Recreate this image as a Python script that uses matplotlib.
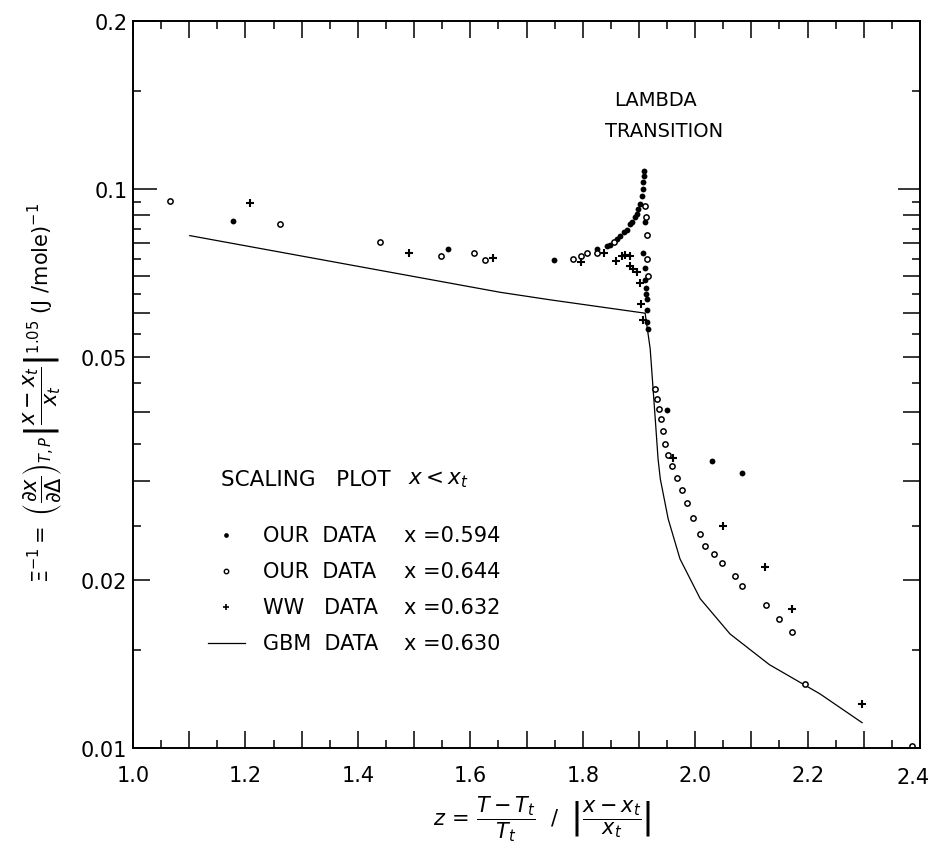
import numpy as np
import matplotlib
matplotlib.use("Agg")
import matplotlib.pyplot as plt
from matplotlib.ticker import FixedLocator, NullFormatter, FixedFormatter

plt.rcParams['font.family'] = ['DejaVu Sans']
plt.rcParams['mathtext.fontset'] = 'dejavusans'

# ---- data ----
# OUR DATA x=0.594 (filled dots)
z_594 = [1.177, 1.560, 1.749, 1.826, 1.843, 1.849, 1.861, 1.867, 1.873, 1.878, 1.884, 1.887,
         1.893, 1.896, 1.899, 1.902, 1.905, 1.907, 1.908, 1.909, 1.909, 1.910, 1.908, 1.910,
         1.911, 1.912, 1.913, 1.914, 1.914, 1.914, 1.916, 1.950, 2.030, 2.084]
y_594 = [0.0878, 0.0782, 0.0747, 0.0782, 0.0792, 0.0794, 0.0814, 0.0826, 0.0839, 0.0844, 0.0866, 0.0875,
         0.0891, 0.0903, 0.0922, 0.0941, 0.0974, 0.1001, 0.1029, 0.1057, 0.1079, 0.0873, 0.0768, 0.0723,
         0.0687, 0.0665, 0.0650, 0.0636, 0.0607, 0.0578, 0.0562, 0.0402, 0.0326, 0.0310]

# OUR DATA x=0.644 (open circles)
z_644 = [1.065, 1.262, 1.440, 1.548, 1.607, 1.626, 1.782, 1.797, 1.807, 1.826, 1.855, 1.910, 1.912,
         1.914, 1.914, 1.916, 1.929, 1.932, 1.935, 1.939, 1.942, 1.946, 1.951, 1.958, 1.967, 1.976,
         1.986, 1.997, 2.008, 2.018, 2.033, 2.048, 2.071, 2.084, 2.126, 2.150, 2.173, 2.196, 2.386]
y_644 = [0.0954, 0.0866, 0.0803, 0.0759, 0.0770, 0.0747, 0.0750, 0.0760, 0.0769, 0.0769, 0.0803, 0.0934, 0.0893,
         0.0828, 0.0749, 0.0700, 0.0439, 0.0421, 0.0404, 0.0388, 0.0370, 0.0350, 0.0335, 0.0320, 0.0304, 0.0289,
         0.0274, 0.0258, 0.0242, 0.0230, 0.0222, 0.0214, 0.0203, 0.0195, 0.0180, 0.0170, 0.0161, 0.0130, 0.0101]

# WW DATA x=0.632 (plus signs)
z_632 = [1.208, 1.491, 1.641, 1.797, 1.837, 1.859, 1.869, 1.876, 1.884, 1.884, 1.890, 1.896,
         1.901, 1.903, 1.907, 1.960, 2.049, 2.125, 2.173, 2.297]
y_632 = [0.0944, 0.0770, 0.0754, 0.0740, 0.0768, 0.0745, 0.0760, 0.0762, 0.0758, 0.0730, 0.0720, 0.0712,
         0.0680, 0.0623, 0.0584, 0.0330, 0.0250, 0.0211, 0.0177, 0.0120]

# GBM DATA x=0.630 (line)
z_630 = [1.101, 1.653, 1.742, 1.911, 1.920, 1.929, 1.934, 1.938, 1.952, 1.973, 2.009, 2.062, 2.132, 2.222, 2.297]
y_630 = [0.0826, 0.0654, 0.0634, 0.0600, 0.0518, 0.0388, 0.0329, 0.0303, 0.0257, 0.0218, 0.0185, 0.0160, 0.0141, 0.0125, 0.0111]

xtick_vals = [1.0, 1.2, 1.4, 1.6, 1.8, 2.0, 2.2, 2.4]
ytick_vals = [0.01, 0.02, 0.05, 0.1, 0.2]

fig = plt.figure(figsize=(9.31, 8.53), dpi=100)
ax = fig.add_axes([0.1429, 0.1219, 0.8453, 0.8523])

ax.plot(z_630, y_630, '-', color='black', lw=0.9)
ax.plot(z_594, y_594, 'o', color='black', ms=4.2, mew=0)
ax.plot(z_644, y_644, 'o', mfc='white', mec='black', ms=3.8, mew=1.1)
ax.plot(z_632, y_632, '+', color='black', ms=5.5, mew=1.5)

ax.set_yscale('log')
ax.set_xlim(1.0, 2.4)
ax.set_ylim(0.01, 0.2)

# x ticks
xmaj = list(np.round(np.arange(1.0, 2.401, 0.1), 2))
ax.xaxis.set_major_locator(FixedLocator(xmaj))
ax.xaxis.set_major_formatter(FixedFormatter([('%.1f' % v if (v in xtick_vals and v < 2.35) else '') for v in xmaj]))
ax.xaxis.set_minor_locator(FixedLocator(np.arange(1.05, 2.4, 0.1)))

# y ticks
ymaj = [0.01, 0.02, 0.03, 0.04, 0.05, 0.06, 0.07, 0.08, 0.09, 0.1, 0.2]
ymin = [0.015, 0.025, 0.035, 0.045, 0.055, 0.065, 0.075, 0.085, 0.095, 0.15]
ax.yaxis.set_major_locator(FixedLocator(ymaj))
ax.yaxis.set_major_formatter(FixedFormatter([('%g' % v if v in ytick_vals else '') for v in ymaj]))
ax.yaxis.set_minor_locator(FixedLocator(ymin))
ax.yaxis.set_minor_formatter(NullFormatter())

ax.tick_params(which='major', direction='in', length=12, width=1.1, top=True, right=True,
               labelsize=15, pad=4)
ax.tick_params(axis='x', which='major', pad=12)
ax.tick_params(which='minor', direction='in', length=6, width=1.1, top=True, right=True)
for t, v in zip(ax.yaxis.get_major_ticks(), ymaj):
    if v in (0.01, 0.1, 0.2):
        t.tick1line.set_markersize(17)
        t.tick2line.set_markersize(16)

# last x label kept inside the figure
ax.annotate('2.4', xy=(1.0, 0.0), xycoords='axes fraction', xytext=(-5, -21),
            textcoords='offset points', ha='center', va='center', fontsize=15)

for s in ax.spines.values():
    s.set_linewidth(1.4)

ax.set_xlabel(r'$z\,=\,\dfrac{T-T_t}{T_t}\ \ /\ \ \left|\dfrac{x-x_t}{x_t}\right|$', fontsize=15)
ax.xaxis.set_label_coords(0.52, -0.062)
ax.xaxis.label.set_va('top')
ax.set_ylabel(r'$\Xi^{-1}=\ \left(\dfrac{\partial x}{\partial \Delta}\right)_{T,P}\left|\dfrac{x-x_t}{x_t}\right|^{1.05}\ (\mathrm{J\ /mole})^{-1}$',
              fontsize=15)
ax.yaxis.set_label_coords(-0.088, 0.49)

# annotations
ax.text(1.93, 0.145, 'LAMBDA', ha='center', va='center', fontsize=14)
ax.text(1.945, 0.1276, 'TRANSITION', ha='center', va='center', fontsize=14)

ax.text(1.157, 0.0303, r'SCALING   PLOT', ha='left', va='center', fontsize=15.5)
ax.text(1.49, 0.0303, r'$x < x_t$', ha='left', va='center', fontsize=15.5)
leg_rows = [0.02405, 0.02076, 0.01786, 0.01541]
leg_name = ['OUR  DATA', 'OUR  DATA', 'WW   DATA', 'GBM  DATA']
leg_x = ['x =0.594', 'x =0.644', 'x =0.632', 'x =0.630']
ax.plot([1.166], [leg_rows[0]], 'o', color='black', ms=3.4, mew=0)
ax.plot([1.166], [leg_rows[1]], 'o', mfc='white', mec='black', ms=3.2, mew=1.0)
ax.plot([1.166], [leg_rows[2]], '+', color='black', ms=4.5, mew=1.2)
ax.plot([1.133, 1.199], [leg_rows[3], leg_rows[3]], '-', color='black', lw=0.9)
for r, n, t in zip(leg_rows, leg_name, leg_x):
    ax.text(1.231, r, n, ha='left', va='center', fontsize=15)
    ax.text(1.482, r, t, ha='left', va='center', fontsize=15)

fig.savefig('out.png', dpi=100)
